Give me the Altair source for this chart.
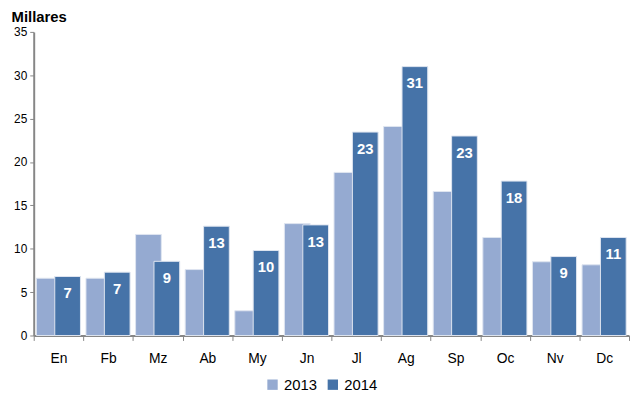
import altair as alt
import pandas as pd

months = ["En", "Fb", "Mz", "Ab", "My", "Jn", "Jl", "Ag", "Sp", "Oc", "Nv", "Dc"]
v2013 = [6.6, 6.6, 11.65, 7.6, 2.85, 12.9, 18.8, 24.1, 16.6, 11.3, 8.5, 8.15]
v2014 = [6.8, 7.3, 8.55, 12.6, 9.8, 12.75, 23.45, 31.0, 23.0, 17.8, 9.1, 11.3]
series = ["2013", "2014"]
colors = ["#95AAD1", "#4673A8"]

rows = []
for i, m in enumerate(months):
    rows.append({"mes": m, "serie": series[0], "valor": v2013[i]})
    rows.append({"mes": m, "serie": series[1], "valor": v2014[i]})
df = pd.DataFrame(rows)

x_enc = alt.X("mes:N", sort=months, title=None,
              scale=alt.Scale(paddingInner=0, paddingOuter=0),
              axis=alt.Axis(labelAngle=0, tickBand="extent", labelFontSize=14,
                            labelColor="#000000", labelFont="Liberation Sans",
                            labelPadding=11, domainColor="#868686", domainWidth=2,
                            tickColor="#868686", tickSize=5, tickWidth=1))
y_enc = alt.Y("valor:Q", title=None,
              scale=alt.Scale(domain=[0, 35], nice=False),
              axis=alt.Axis(values=[0, 5, 10, 15, 20, 25, 30, 35], grid=False,
                            labelFontSize=12, labelColor="#000000",
                            labelFont="Liberation Sans", domainColor="#868686",
                            domainWidth=2, tickColor="#868686", tickSize=4,
                            labelPadding=3))
color_enc = alt.Color("serie:N", scale=alt.Scale(domain=series, range=colors),
                      title=None,
                      legend=alt.Legend(orient="none", legendX=234, legendY=349,
                                        direction="horizontal",
                                        symbolType="square", symbolSize=110,
                                        symbolStrokeWidth=0,
                                        labelFontSize=15, labelFont="Liberation Sans",
                                        labelColor="#000000",
                                        columnPadding=8, symbolOffset=0))

base = alt.Chart(df).encode(x=x_enc, y=y_enc, color=color_enc)

bars13 = base.transform_filter(alt.datum.serie == "2013").mark_bar(
    width=26, xOffset=-9.4, stroke="#dfe5f0", strokeWidth=1)
bars14 = base.transform_filter(alt.datum.serie == "2014").mark_bar(
    width=26, xOffset=9.2, stroke="#dfe5f0", strokeWidth=1)
labels = alt.Chart(df).transform_filter(alt.datum.serie == "2014").mark_text(
    xOffset=9.2, dy=17, baseline="middle", align="center", color="white",
    fontWeight="bold", fontSize=15, font="Liberation Sans").encode(
    x=alt.X("mes:N", sort=months), y="valor:Q",
    text=alt.Text("valor:Q", format=".0f"))

chart = alt.layer(bars13, bars14, labels).properties(
    width=602, height=307,
    padding={"left": 3, "right": 0, "top": 0, "bottom": 0},
    title=alt.Title("Millares", anchor="start", frame="bounds", fontSize=15,
                    fontWeight="bold", font="Liberation Sans", color="#000000",
                    offset=1, dx=-2)
).configure_view(stroke=None).configure_axis(ticks=True)

chart.save("out.html", embed_options={"renderer": "svg", "actions": False})
